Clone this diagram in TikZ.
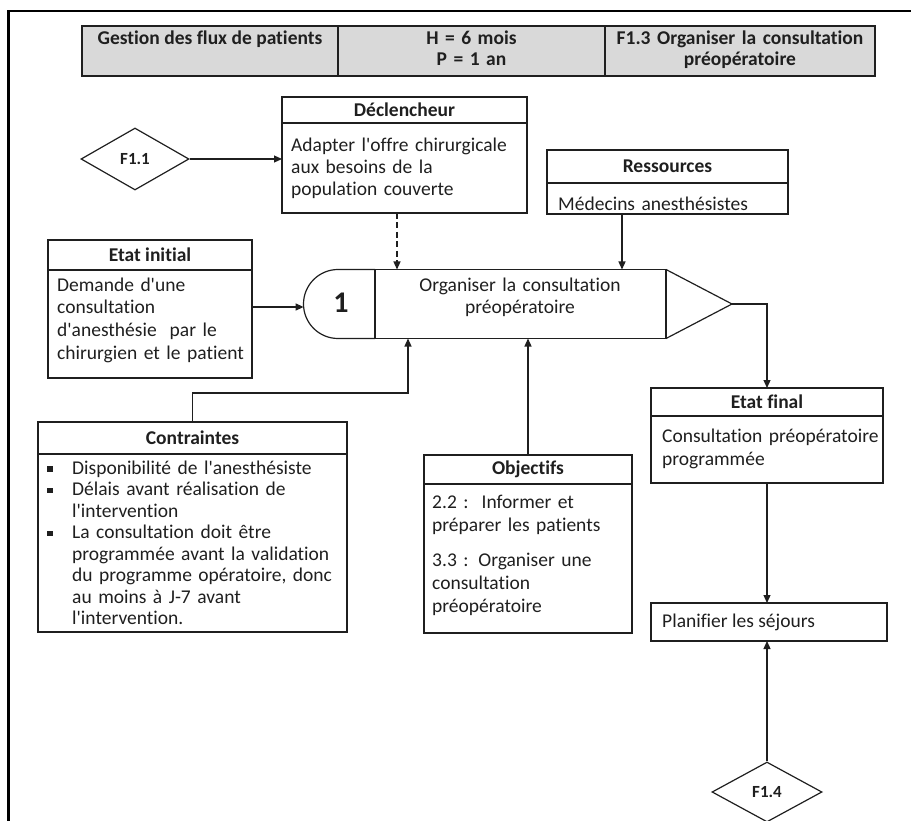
\documentclass[tikz,border=0pt]{standalone}
\usepackage{fontspec}
\setmainfont{Carlito}[Ligatures=NoCommon]
\usetikzlibrary{shapes.geometric,arrows.meta,calc}
\definecolor{ink}{HTML}{1F1F1F}
\definecolor{hdrgray}{HTML}{D9D9D9}
\newcommand{\q}{\textquotesingle}
\begin{document}
\begin{tikzpicture}[x=1pt,y=-1pt,
  font=\fontsize{19.5}{23}\selectfont, text=ink,
  frm/.style={draw=ink, line width=1.2pt, inner sep=0pt, outer sep=0pt, anchor=north west},
  tbl/.style={draw=ink, fill=hdrgray, line width=1.2pt, minimum height=50pt, inner sep=0pt, outer sep=0pt, anchor=north west},
  txt/.style={anchor=base west, inner sep=0pt, align=left, text width=#1},
  arr/.style={draw=ink, line width=1.2pt, -{Triangle[length=8pt,width=7pt]}},
  dia/.style={draw=ink, line width=1.2pt, diamond, inner sep=0pt, font=\fontsize{17}{17}\selectfont\bfseries},
  bulsq/.style={fill=ink, inner sep=0pt, minimum size=5.5pt}
]
\useasboundingbox (0,0) rectangle (911,821);
% outer frame
\draw[line width=2.5pt, black] (8.5,821) -- (8.5,11) -- (911,11);

% header table
\node[tbl, minimum width=256pt] (t1) at (82,26) {};
\node[tbl, minimum width=267pt] (t2) at (338,26) {};
\node[tbl, minimum width=270pt] (t3) at (605,26) {};
\node[anchor=base, inner sep=0pt, font=\fontsize{19.5}{21}\selectfont\bfseries] (t1x) at (t1.north |- 0,45) {Gestion des flux de patients};
\node[anchor=base, inner sep=0pt, align=center, text width=260pt, font=\fontsize{19.5}{21}\selectfont\bfseries] (t2x) at (t2.north |- 0,45) {H = 6 mois\\P = 1 an};
\node[anchor=base, inner sep=0pt, align=center, text width=265pt, font=\fontsize{19.5}{21}\selectfont\bfseries] (t3x) at (t3.north |- 0,45) {F1.3 Organiser la consultation\\préopératoire};

% Declencheur
\node[frm, minimum width=245pt, minimum height=26pt] (decH) at (282,97) {\bfseries Déclencheur};
\node[frm, minimum width=245pt, minimum height=90pt] (decB) at (282,123) {};
\node[txt=240pt, font=\fontsize{19.5}{22}\selectfont] (decT) at (291,152) {Adapter l\q offre chirurgicale\\aux besoins de la\\population couverte};

% F1.1
\node[dia, minimum width=108pt, minimum height=62pt] (f11) at (135,159) {F1.1};
\draw[arr] (f11.east) -- (f11.east -| decB.west);

% Ressources
\node[frm, minimum width=241pt, minimum height=33pt] (resH) at (547,150) {\bfseries Ressources};
\node[frm, minimum width=241pt, minimum height=31pt] (resB) at (547,183) {};
\node[txt=230pt] (resT) at (558,211) {Médecins anesthésistes};

% Etat initial
\node[frm, minimum width=204pt, minimum height=30pt] (eiH) at (48,240) {\bfseries Etat initial};
\node[frm, minimum width=204pt, minimum height=108pt] (eiB) at (48,270) {};
\node[txt=198pt] (eiT) at (57,291) {Demande d\q une\\consultation\\d\q anesthésie\ \ par le\\chirurgien et le patient};

% Process
\node[frm, minimum width=291pt, minimum height=69pt] (proc) at (375,269.5) {};
\node[anchor=base, inner sep=0pt, align=center, text width=280pt] (procT) at (520,291) {Organiser la consultation\\préopératoire};
\coordinate (tip) at (732,304);
\draw[draw=ink, line width=1.2pt] (proc.north east) -- (tip) -- (proc.south east);
\draw[draw=ink, line width=1.2pt] (proc.north west) -- (338,269.5)
  .. controls (318.95,269.5) and (303.5,284.95) .. (303.5,304)
  .. controls (303.5,323.05) and (318.95,338.5) .. (338,338.5) -- (proc.south west);
\node[font=\fontsize{30}{30}\selectfont\bfseries, inner sep=0pt] (num) at (341,303) {1};
\coordinate (pin) at (303.6,307);
\draw[arr] (eiB.east |- pin) -- (pin);

% connectors into process
\draw[arr, dash pattern=on 6pt off 3.5pt] ([xshift=115pt]decB.south west) -- ([xshift=22pt]proc.north west);
\draw[arr] ([xshift=75pt]resB.south west) -- ([xshift=247pt]proc.north west);

% Contraintes
\node[frm, minimum width=309pt, minimum height=32pt] (coH) at (38,422) {\bfseries Contraintes};
\node[frm, minimum width=309pt, minimum height=178pt] (coB) at (38,454) {};
\node[txt=272pt, font=\fontsize{19.5}{21.5}\selectfont] (coT) at (72,474) {Disponibilité de l\q anesthésiste\\Délais avant réalisation de\\l\q intervention\\La consultation doit être\\programmée avant la validation\\du programme opératoire, donc\\au moins à J-7 avant\\l\q intervention.};
\node[bulsq] (b1) at (50,469) {};
\node[bulsq] (b2) at (50,490.5) {};
\node[bulsq] (b3) at (50,533.5) {};
\draw[arr] (coH.north) -- ++(0,-29) -| ([xshift=33pt]proc.south west);

% Objectifs
\node[frm, minimum width=208pt, minimum height=29pt] (obH) at (424,455) {\bfseries Objectifs};
\node[frm, minimum width=208pt, minimum height=149pt] (obB) at (424,484) {};
\node[txt=200pt] (obT) at (432,508) {2.2 :\ \ Informer et\\préparer les patients\\[12pt]3.3 : Organiser une\\consultation\\préopératoire};
\draw[arr] (obH.north) -- (obH.north |- proc.south);

% Etat final
\node[frm, minimum width=232pt, minimum height=28pt] (efH) at (651,388) {\bfseries Etat final};
\node[frm, minimum width=232pt, minimum height=67pt] (efB) at (651,416) {};
\node[txt=220pt] (efT) at (662,442) {Consultation préopératoire\\programmée};
\draw[arr] (tip) -| (efH.north);

% Planifier
\node[frm, minimum width=236pt, minimum height=38pt] (pl) at (651,603) {};
\node[anchor=base west, inner sep=0pt] (plT) at (662,627) {Planifier les séjours};
\draw[arr] (efB.south) -- (efB.south |- pl.north);

% F1.4
\node[dia, minimum width=110pt, minimum height=60pt] (f14) at (767,792) {F1.4};
\draw[arr] (f14.north) -- (f14.north |- pl.south);
\end{tikzpicture}
\end{document}
